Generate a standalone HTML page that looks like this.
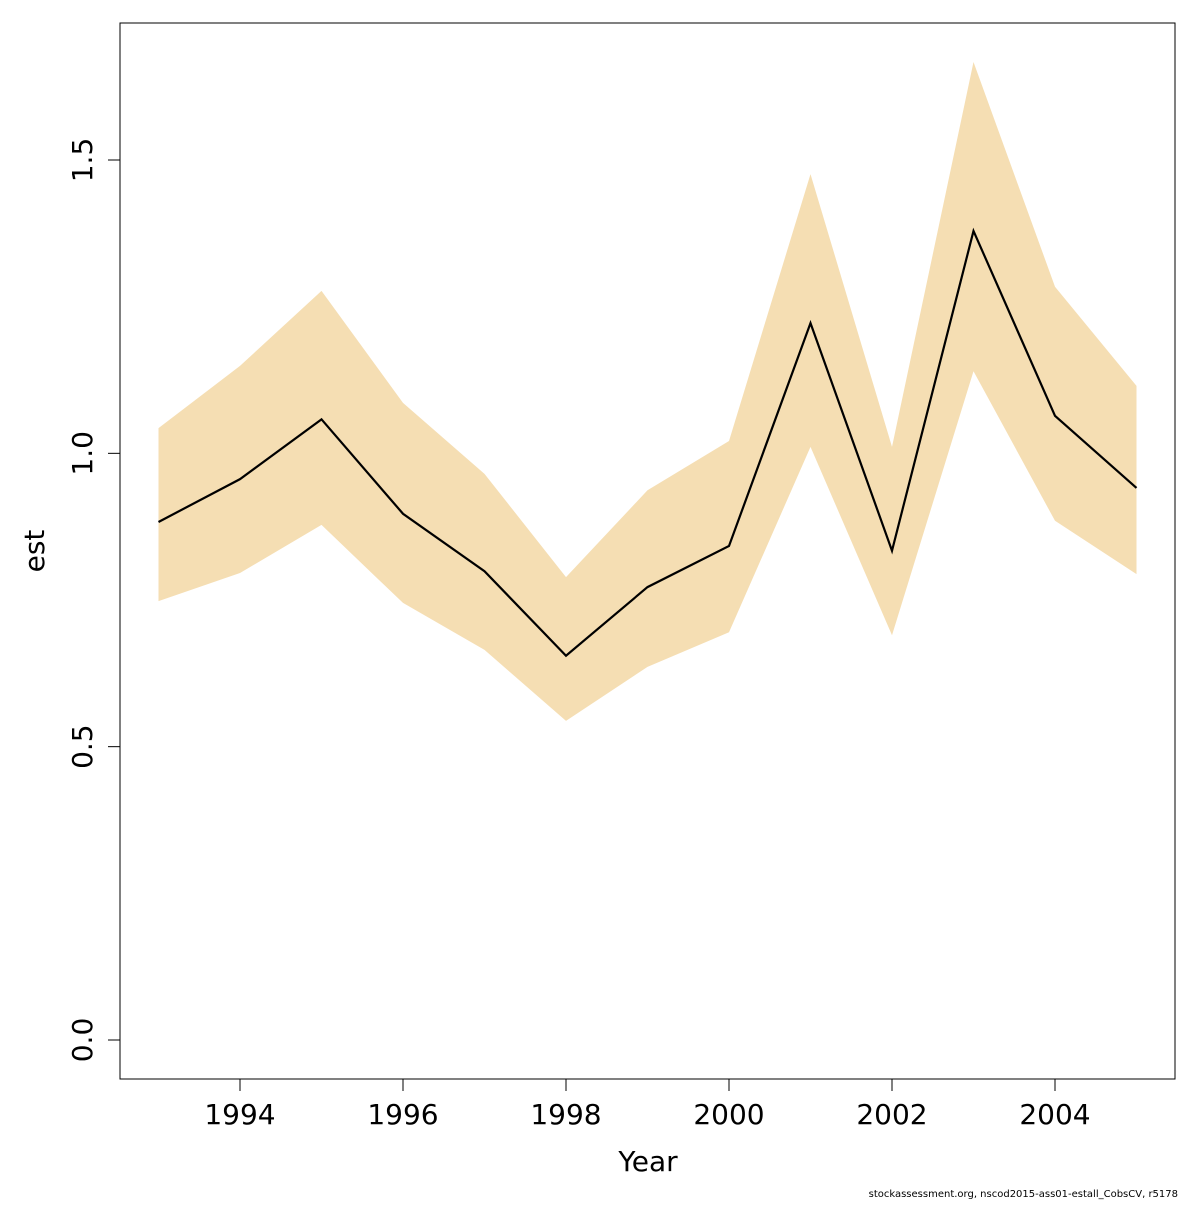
<!DOCTYPE html>
<html><head><meta charset="utf-8"><style>
body{margin:0;background:#fff}
svg text{font-family:"DejaVu Sans","Liberation Sans",sans-serif;fill:#000}
</style></head><body>
<svg id="c" width="1200" height="1200" xmlns="http://www.w3.org/2000/svg">
<rect x="120" y="23" width="1055" height="1056" fill="none" stroke="#000" stroke-width="1"/>
<text x="1178" y="1197" font-size="10" text-anchor="end">stockassessment.org, nscod2015-ass01-estall_CobsCV, r5178</text>
<text x="648" y="1171" font-size="28" text-anchor="middle">Year</text>
<text transform="translate(44,551) rotate(-90)" font-size="28" text-anchor="middle">est</text>
</svg>
<script>
const years=[1993,1994,1995,1996,1997,1998,1999,2000,2001,2002,2003,2004,2005];
const est=[0.883,0.956,1.058,0.897,0.799,0.655,0.772,0.842,1.222,0.834,1.379,1.064,0.941];
const upper=[1.043,1.149,1.277,1.086,0.965,0.789,0.937,1.021,1.476,1.011,1.667,1.284,1.115];
const lower=[0.748,0.796,0.878,0.745,0.665,0.544,0.636,0.695,1.011,0.690,1.140,0.885,0.794];
const xTicks=[1994,1996,1998,2000,2002,2004];
const yTicks=["0.0","0.5","1.0","1.5"];
const NS="http://www.w3.org/2000/svg";
const svg=document.getElementById('c');
const X=v=>240+(v-1994)*81.5;
const Y=v=>1040-v*586.67;
function mk(t,a){const e=document.createElementNS(NS,t);for(const k in a)e.setAttribute(k,a[k]);svg.insertBefore(e,svg.firstChild.nextSibling);return e;}
let pts=years.map((y,i)=>X(y)+','+Y(upper[i])).concat(years.map((y,i)=>X(y)+','+Y(lower[i])).reverse());
const band=mk('polygon',{points:pts.join(' '),fill:'#f5deb3'});


const line=document.createElementNS(NS,'polyline');
line.setAttribute('points',years.map((y,i)=>X(y)+','+Y(est[i])).join(' '));
line.setAttribute('fill','none');line.setAttribute('stroke','#000');line.setAttribute('stroke-width','2.2');


svg.appendChild(line);
xTicks.forEach(t=>{
 const l=document.createElementNS(NS,'line');
 l.setAttribute('x1',X(t));l.setAttribute('x2',X(t));l.setAttribute('y1',1079);l.setAttribute('y2',1091);l.setAttribute('stroke','#000');
 
 
 svg.appendChild(l);
 const tx=document.createElementNS(NS,'text');
 tx.setAttribute('x',X(t));tx.setAttribute('y',1124);tx.setAttribute('font-size','28');tx.setAttribute('text-anchor','middle');
 tx.textContent=t;
 
 
 svg.appendChild(tx);
});
yTicks.forEach(t=>{
 const v=parseFloat(t);
 const l=document.createElementNS(NS,'line');
 l.setAttribute('x1',108);l.setAttribute('x2',120);l.setAttribute('y1',Y(v));l.setAttribute('y2',Y(v));l.setAttribute('stroke','#000');
 
 
 svg.appendChild(l);
 const tx=document.createElementNS(NS,'text');
 tx.setAttribute('transform','translate(92,'+Y(v)+') rotate(-90)');tx.setAttribute('font-size','28');tx.setAttribute('text-anchor','middle');
 tx.textContent=t;
 
 
 svg.appendChild(tx);
});
</script>
</body></html>
